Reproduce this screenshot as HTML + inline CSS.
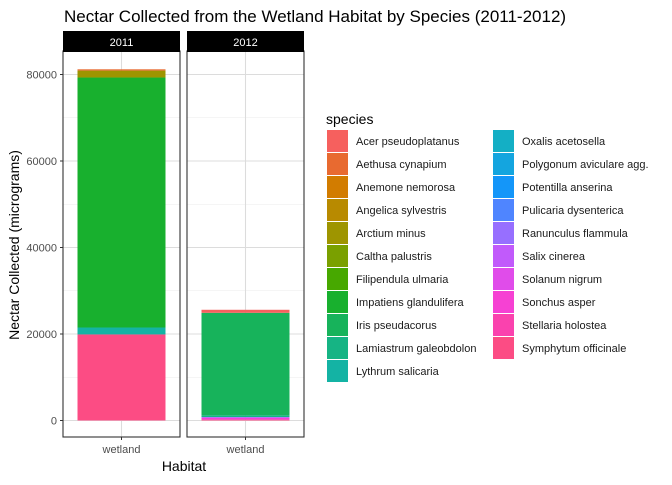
<!DOCTYPE html>
<html><head><meta charset="utf-8"><style>
body{margin:0;background:#fff;font-family:"Liberation Sans",sans-serif;}
</style></head><body>
<svg id="chart" width="672" height="480" xmlns="http://www.w3.org/2000/svg">
<text x="64" y="22" font-size="17" fill="#000">Nectar Collected from the Wetland Habitat by Species (2011-2012)</text>
<g id="panels"></g>
<g id="legend"></g>
<text x="184" y="471" font-size="14" text-anchor="middle">Habitat</text>
<text transform="translate(19,245) rotate(-90)" font-size="14" text-anchor="middle">Nectar Collected (micrograms)</text>
</svg>
<script>
const species=["Acer pseudoplatanus","Aethusa cynapium","Anemone nemorosa","Angelica sylvestris","Arctium minus","Caltha palustris","Filipendula ulmaria","Impatiens glandulifera","Iris pseudacorus","Lamiastrum galeobdolon","Lythrum salicaria","Oxalis acetosella","Polygonum aviculare agg.","Potentilla anserina","Pulicaria dysenterica","Ranunculus flammula","Salix cinerea","Solanum nigrum","Sonchus asper","Stellaria holostea","Symphytum officinale"];
const colors=["#F6605E","#E86A30","#D27C00","#B88A00","#9E9500","#7AA000","#47A800","#18B02E","#17B35B","#16B484","#14B3A4","#14AFC5","#14A5DF","#1496F9","#4F85FF","#976FFF","#C15AFB","#E04CEA","#F641D3","#FA42AE","#FC4C84"];
const years=["2011","2012"];
const values2011=[0,300,0,0,1600,0,0,57800,0,0,1600,0,0,0,0,0,0,0,0,0,19900];
const values2012=[700,0,0,0,0,0,0,0,23700,400,0,0,0,0,0,0,200,0,400,0,200];
const yTicks=[0,20000,40000,60000,80000];
const ns="http://www.w3.org/2000/svg";
function mk(t,a,p){const e=document.createElementNS(ns,t);for(const k in a)e.setAttribute(k,a[k]);p.appendChild(e);return e;}
const y0=420.5,yTop=51,yBot=437;
const ys=v=>y0-v*(346/80000);
const panelsG=document.getElementById('panels');
const panelX=[63,187],pw=117;
years.forEach((yr,i)=>{
  const x=panelX[i];
  const g=mk('g',{},panelsG);
  
  
  mk('rect',{x:x,y:yTop,width:pw,height:yBot-yTop,fill:'#fff'},g);
  for(let v=10000;v<=80000;v+=20000){mk('line',{x1:x,x2:x+pw,y1:ys(v),y2:ys(v),stroke:'#ebebeb','stroke-width':0.6},g);}
  yTicks.forEach(v=>mk('line',{x1:x,x2:x+pw,y1:ys(v),y2:ys(v),stroke:'#dcdcdc','stroke-width':1.1},g));
  const cx=x+pw/2;
  mk('line',{x1:cx,x2:cx,y1:yTop,y2:yBot,stroke:'#dcdcdc','stroke-width':1.1},g);
  const vals=i===0?values2011:values2012;
  let cum=0;
  for(let s=species.length-1;s>=0;s--){
    const v=vals[s];if(!v)continue;
    const r=mk('rect',{x:cx-44,y:ys(cum+v),width:88,height:ys(cum)-ys(cum+v),fill:colors[s]},g);
    
    
    cum+=v;
  }
  mk('rect',{x:x,y:yTop,width:pw,height:yBot-yTop,fill:'none',stroke:'#333','stroke-width':1.1},g);
  const st=mk('rect',{x:x,y:31,width:pw,height:21,fill:'#000'},g);
  
  
  const tt=mk('text',{x:cx,y:46,'font-size':11,fill:'#fff','text-anchor':'middle'},g);tt.textContent=yr;
  mk('line',{x1:cx,x2:cx,y1:yBot,y2:yBot+3,stroke:'#333'},g);
  const xl=mk('text',{x:cx,y:453,'font-size':11,fill:'#4d4d4d','text-anchor':'middle'},g);xl.textContent='wetland';
  
  
});
yTicks.forEach(v=>{
  mk('line',{x1:60,x2:63,y1:ys(v),y2:ys(v),stroke:'#333'},panelsG);
  const t=mk('text',{x:57,y:ys(v)+4,'font-size':11,fill:'#4d4d4d','text-anchor':'end'},panelsG);t.textContent=v;
  
  
});
const lg=document.getElementById('legend');


const lt=mk('text',{x:326,y:124,'font-size':14},lg);lt.textContent='species';
species.forEach((s,i)=>{
  const col=i<11?0:1,row=i<11?i:i-11;
  const x=col?493:327,y=130+row*23;
  const e=mk('g',{},lg);
  
  
  mk('rect',{x:x,y:y,width:21,height:22,fill:colors[i]},e);
  const t=mk('text',{x:x+29,y:y+15,'font-size':11,fill:'#1a1a1a'},e);t.textContent=s;
});
</script>
</body></html>
